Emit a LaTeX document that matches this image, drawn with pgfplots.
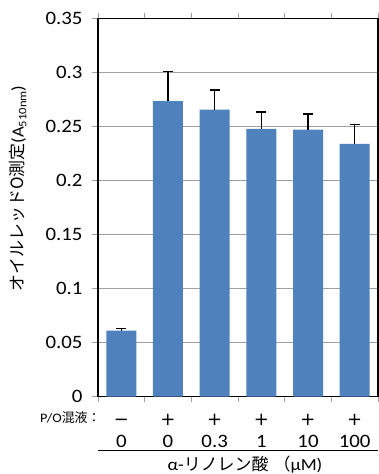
\documentclass[border=0pt]{standalone}
\usepackage{pgfplots}
\pgfplotsset{compat=1.18}
\usepackage{fontspec}
\setmainfont{Carlito}[FakeStretch=1.1]
\newfontfamily\jp{Noto Sans CJK JP}
\newfontfamily\dv{DejaVu Sans}
\definecolor{barblue}{HTML}{4F81BD}
\newcommand{\sg}[1]{{\dv\fontsize{18}{22}\selectfont\vphantom{+}#1}}
\begin{document}
\begin{tikzpicture}
\path[use as bounding box] (-98bp,-77.5bp) rectangle (281bp,396.5bp);
\begin{axis}[
  scale only axis,
  width=280bp, height=378bp,
  xmin=-0.5, xmax=5.5,
  ymin=0, ymax=0.35,
  ytick={0,0.05,...,0.35},
  yticklabels={0,0.05,0.1,0.15,0.2,0.25,0.3,0.35},
  ymajorgrids,
  major grid style={gray!75, line width=0.9bp},
  axis line style={black, line width=1.6bp},
  tick align=outside,
  major tick length=6bp,
  ytick style={gray!75, line width=0.9bp},
  xtick={0,1,2,3,4,5},
  xtick style={draw=none},
  xticklabels={{\sg{−}\\0},{\sg{+}\\0},{\sg{+}\\0.3},{\sg{+}\\1},{\sg{+}\\10},{\sg{+}\\100}},
  xticklabel style={align=center, font=\fontsize{19}{22}\selectfont, yshift=-8bp},
  extra x ticks={-0.5,0.5,1.5,2.5,3.5,4.5,5.5},
  extra x tick labels={},
  extra x tick style={xtick style={draw=gray!75, line width=0.9bp}, major tick length=5bp, grid=none},
  yticklabel style={font=\fontsize{19}{22}\selectfont, xshift=-6bp},
  /pgf/number format/assume math mode=true,
  clip=false,
  ybar, bar width=30bp,
  ylabel={\jp オイルレッドO測定\normalfont(A\raisebox{-0.35ex}{\fontsize{11.5}{12}\selectfont 510nm})},
  ylabel style={at={(axis description cs:-0.2857,0.55)}, anchor=center, rotate=0, font=\fontsize{17}{22}\selectfont},
]
\addplot[fill=barblue, draw=none,
  error bars/.cd, y dir=plus, y explicit,
  error bar style={black, line width=1.2bp},
  error mark options={black, rotate=90, mark size=5bp, line width=1.2bp}]
  table[x=x, y=y, y error=e] {
x y e
0 0.061 0.002
1 0.2736 0.0274
2 0.2656 0.0182
3 0.2477 0.0157
4 0.247 0.0146
5 0.234 0.018
};
\draw[black, line width=0.9bp] (rel axis cs:0,-0.1434) -- (rel axis cs:1,-0.1434);
\node[anchor=east, font=\fontsize{13}{18}\selectfont] at (rel axis cs:0.022,-0.0555) {P/O{\jp 混液：}};
\node[font=\fontsize{17}{20}\selectfont] at (rel axis cs:0.525,-0.18) {α-{\jp リノレン酸\hspace{0.3em}（}μM)};
\end{axis}
\end{tikzpicture}
\end{document}
